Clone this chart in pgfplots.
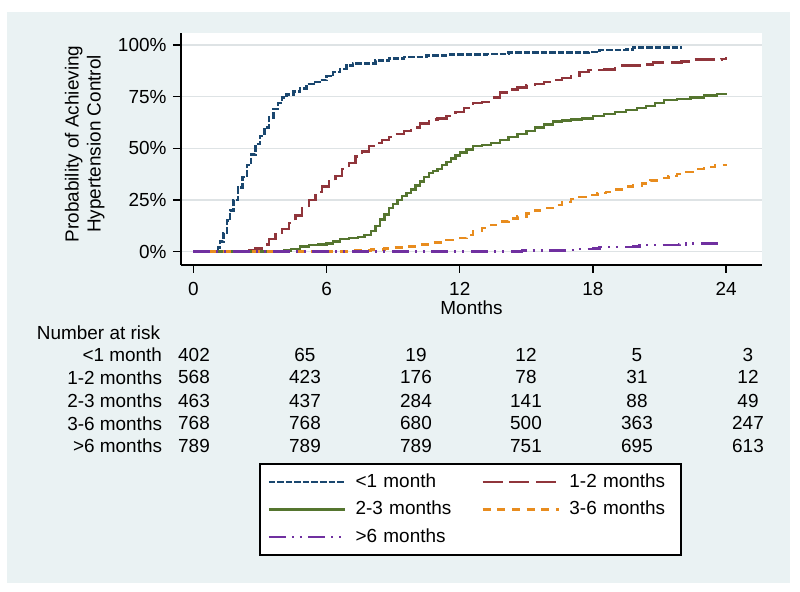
\documentclass[border=0pt]{standalone}
\usepackage{pgfplots}
\pgfplotsset{compat=1.18}
\usepackage{fontspec}
\setmainfont{Liberation Sans}
\definecolor{bgc}{RGB}{234,242,243}
\definecolor{gridc}{RGB}{222,227,229}
\definecolor{c1}{RGB}{26,71,111}
\definecolor{c2}{RGB}{144,53,59}
\definecolor{c3}{RGB}{85,117,47}
\definecolor{c4}{RGB}{232,140,30}
\definecolor{c5}{RGB}{112,48,160}
\begin{document}
\fontsize{14.2}{17}\selectfont
\begin{tikzpicture}
\fill[white] (0,0) rectangle (600pt,444pt);
\begin{scope}[x=0.75pt,y=-0.75pt,shift={(0pt,444pt)}]
\fill[bgc] (7,12) rectangle (790,583);
\node[anchor=west,inner sep=0pt] at (36.7,333) {Number at risk};
\foreach \lab/\yy in {{<1 month}/355,{1-2 months}/377.3,{2-3 months}/400.5,{3-6 months}/423.3,{>6 months}/445.7}
  \node[anchor=east,inner sep=0pt] at (162.3,\yy) {\lab};
\foreach \a/\b/\c/\d/\e/\f [count=\i] in {402/65/19/12/5/3, 568/423/176/78/31/12, 463/437/284/141/88/49, 768/768/680/500/363/247, 789/789/789/751/695/613}{
  \pgfmathsetmacro\yy{{355,377.3,400.5,423.3,445.7}[\i-1]}
  \node[inner sep=0pt] at (194,\yy) {\a};
  \node[inner sep=0pt] at (305,\yy) {\b};
  \node[inner sep=0pt] at (416,\yy) {\c};
  \node[inner sep=0pt] at (526,\yy) {\d};
  \node[inner sep=0pt] at (637,\yy) {\e};
  \node[inner sep=0pt] at (748,\yy) {\f};
}
\end{scope}
\begin{axis}[
  at={(135.75pt,245.25pt)}, anchor=south west,
  scale only axis, width=435.75pt, height=174pt,
  xmin=-0.563, xmax=25.62, ymin=-6.45, ymax=105.8,
  axis x line*=bottom, axis y line*=left,
  axis line style={line width=0.9pt, black, -},
  axis background/.style={fill=white},
  xtick={0,6,12,18,24}, ytick={0,25,50,75,100},
  yticklabels={0\%,25\%,50\%,75\%,100\%},
  tick align=outside, major tick length=6pt,
  tick style={line width=0.9pt, black},
  ymajorgrids, grid style={gridc, line width=0.8pt},
  /pgf/number format/assume math mode=true,
  xticklabel style={yshift=-1.8pt},
  xlabel={Months},
  ylabel={Probability of Achieving\\Hypertension Control},
  every axis x label/.style={at={(axis description cs:0.5,-0.183)}, anchor=center},
  every axis y label/.style={at={(axis description cs:-0.1655,0.5216)}, anchor=center, rotate=90, align=center, font=\fontsize{14.2}{16.5}\selectfont},
  legend columns=2,
  legend cell align=left,
  legend style={at={(axis description cs:0.1348,-0.8547)}, anchor=north west, draw=black, line width=1.6pt, fill=white, inner xsep=5.5pt, inner ysep=3pt,
    nodes={inner sep=0pt, text width=78pt, align=left, minimum height=20.6pt},
    /tikz/every odd column/.append style={column sep=6.8pt},
    /tikz/every even column/.append style={column sep=16.5pt}},
  legend image code/.code={\draw[#1,line width=1.6pt] (0pt,0pt) -- (57.5pt,0pt);},
]
\addplot[const plot, c1, line width=1.8pt, dash pattern=on 4.9pt off 1.5pt] coordinates {
(0,0) (1.05,0) (1.1,2) (1.2,5) (1.35,9) (1.5,15) (1.65,20) (1.8,25) (2.0,31) (2.2,36) (2.4,42) (2.6,47) (2.8,52) (3.0,56) (3.2,60) (3.4,65) (3.6,69) (3.8,72) (4.0,74.5) (4.2,76) (4.5,77.5) (4.8,79) (5.1,81) (5.4,82) (5.7,83) (6.0,85) (6.3,87) (6.6,88.5) (6.9,90) (7.2,91) (7.8,91) (8.2,92.5) (8.8,93.5) (9.5,94.3) (10.5,95) (11.5,95.3) (13.2,95.5) (14.2,96.3) (17.8,96.5) (18.3,97.5) (19.5,97.8) (19.8,98.8) (22,98.8)};
\addlegendentry{<1 month}
\addplot[const plot, c2, line width=1.8pt, dash pattern=on 15pt off 5pt] coordinates {
(0,0) (2.3,0) (2.5,0.5) (2.8,1.5) (3.1,3.5) (3.4,6) (3.7,8.5) (4.0,11) (4.3,14) (4.6,17.5) (4.9,21) (5.2,25) (5.5,29) (5.8,31.5) (6.1,34) (6.4,36.5) (6.7,40) (7.0,43) (7.3,46) (7.6,48.5) (7.9,51) (8.2,52.5) (8.5,54) (8.8,55.5) (9.1,57) (9.5,58.5) (9.8,60) (10.2,62) (10.6,64) (11.0,64.5) (11.4,65.5) (11.8,67.5) (12.2,69.5) (12.6,72) (13.0,72.5) (13.4,74.5) (13.8,77) (14.2,78.5) (14.6,79.5) (15.0,80.5) (15.4,81) (15.8,82) (16.2,83) (16.6,84) (17.0,85) (17.4,87) (17.8,88) (18.5,88.2) (19.0,89) (19.3,90) (20.3,90.5) (20.7,91.5) (22,92) (22.5,93) (23.8,93.2) (24,94.3)};
\addlegendentry{1-2 months}
\addplot[const plot, c3, line width=1.8pt] coordinates {
(0,0) (3.9,0) (4.1,0.5) (4.4,1.2) (4.8,2.5) (5.2,3.2) (5.6,3.5) (6.0,4) (6.3,5) (6.6,6) (7.0,6.5) (7.4,7) (7.7,8) (8.0,10) (8.2,12.5) (8.4,15.5) (8.6,18) (8.8,21) (9.0,23) (9.2,25) (9.4,27) (9.6,28.5) (9.8,30) (10.0,32) (10.2,34) (10.4,36) (10.6,38) (10.8,39) (11.0,40) (11.2,42) (11.4,43.5) (11.6,45) (11.8,46.5) (12.0,48) (12.3,49.5) (12.6,51) (13.0,51.5) (13.4,52.5) (13.8,54) (14.2,55.5) (14.6,57) (15.0,58.5) (15.4,60) (15.8,61.5) (16.2,63) (16.6,63.5) (17.0,64) (17.5,64.5) (18.0,65.5) (18.5,66.5) (19.0,67.5) (19.5,68.5) (20.0,69.5) (20.4,70.5) (20.8,72) (21.2,73.5) (21.8,74) (22.4,74.5) (23.0,75.5) (23.6,76.2) (24,76.7)};
\addlegendentry{2-3 months}
\addplot[const plot, c4, line width=1.8pt, dash pattern=on 6pt off 5pt] coordinates {
(0,0) (6.8,0) (7.2,0.5) (8.0,1) (8.6,1.5) (9.0,2) (9.6,2.5) (10.2,3.5) (10.8,4.5) (11.4,5.5) (12.0,6.5) (12.3,8) (12.6,10) (13.0,11.5) (13.4,13) (13.8,14.5) (14.2,16) (14.6,17) (15.0,18.5) (15.4,20) (15.8,21) (16.2,22.5) (16.6,24) (17.0,25.5) (17.4,26.5) (17.8,27.5) (18.2,28.3) (18.6,29) (19.0,30) (19.4,31.5) (19.8,32) (20.2,33) (20.6,34.5) (21.0,35.5) (21.4,36.5) (21.8,37.5) (22.2,38.5) (22.6,40) (23.0,41) (23.5,42) (24,42.2)};
\addlegendentry{3-6 months}
\addplot[const plot, c5, line width=1.8pt, dash pattern=on 12.75pt off 4.5pt on 1.5pt off 4.5pt on 1.5pt off 5pt] coordinates {
(0,0) (14.5,0) (14.8,0.6) (16.8,0.8) (17.2,1.2) (18.0,1.5) (18.3,2.3) (19.8,2.5) (20.1,3.3) (21.9,3.4) (22.2,4) (23.8,4)};
\addlegendentry{>6 months}
\end{axis}
\end{tikzpicture}
\end{document}
